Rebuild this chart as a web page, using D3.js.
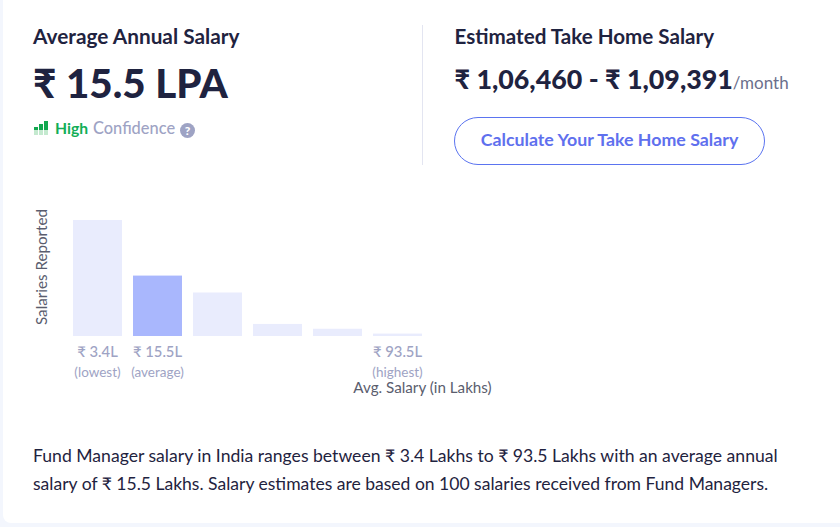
<!DOCTYPE html>
<html>
<head>
<meta charset="utf-8">
<script src="https://d3js.org/d3.v7.min.js"></script>
<style>
html, body { margin: 0; padding: 0; background: #f3f6fd; overflow: hidden; }
svg { display: block; font-family: Lato, "Open Sans", sans-serif; }
.domain { display: none; }
</style>
</head>
<body>
<div id="chart"></div>
<script>
var width = 840;
var height = 527;

// bars
var bins = ['b1', 'b2', 'b3', 'b4', 'b5', 'b6'];
var counts = [48, 25, 18, 5, 3, 1];
var tickLabels = ['₹ 3.4L', '₹ 15.5L', '', '', '', '₹ 93.5L'];
var tickNotes = ['(lowest)', '(average)', '', '', '', '(highest)'];
var averageBin = 'b2';

var svg = d3.select('#chart')
    .append('svg')
    .attr('width', width)
    .attr('height', height);

// white card
svg.append('rect')
    .attr('x', 3).attr('y', -10)
    .attr('width', 850).attr('height', 533)
    .attr('rx', 8)
    .attr('fill', '#fff');

function label(x, y, txt, size, weight, color) {
    return svg.append('text')
        .attr('x', x).attr('y', y)
        .attr('font-size', size)
        .attr('font-weight', weight)
        .attr('fill', color)
        .text(txt);
}

var dark = '#1f2340';
var grey = '#9ea3c4';

// header, left
label(33, 44, 'Average Annual Salary', 20.8, 700, dark);
label(33, 98, '₹ 15.5 LPA', 40.3, 900, dark);

// little signal icon
var signal = svg.append('g').attr('transform', 'translate(34,121)');
[[0, 6], [5, 3], [10, 0]].forEach(function(d) {
    signal.append('rect').attr('x', d[0]).attr('y', d[1])
        .attr('width', 4).attr('height', 14 - d[1]).attr('fill', '#c4e9cf');
    signal.append('rect').attr('x', d[0]).attr('y', d[1])
        .attr('width', 4).attr('height', 9 - d[1]).attr('fill', '#12a84f');
});

label(55, 134, 'High', 15.7, 700, '#12ae57');
label(93, 134, 'Confidence', 16.4, 500, grey);

svg.append('circle').attr('cx', 187.5).attr('cy', 130.5).attr('r', 7.5).attr('fill', grey);
label(187.5, 135, '?', 12, 900, '#fff').attr('text-anchor', 'middle');

// divider
svg.append('line')
    .attr('x1', 422.5).attr('x2', 422.5)
    .attr('y1', 25).attr('y2', 165)
    .attr('stroke', '#e3e5f1');

// header, right
label(454.5, 44, 'Estimated Take Home Salary', 20.6, 700, dark);
var range = label(454.5, 89, '₹ 1,06,460 - ₹ 1,09,391', 26.8, 900, dark);
range.append('tspan')
    .attr('font-size', 17)
    .attr('font-weight', 400)
    .attr('fill', '#6b6f8c')
    .text('/month');

svg.append('rect')
    .attr('x', 454.5).attr('y', 117.5)
    .attr('width', 310).attr('height', 47)
    .attr('rx', 23.5)
    .attr('fill', '#fff')
    .attr('stroke', '#5b74f0');
label(609.5, 146, 'Calculate Your Take Home Salary', 17.8, 700, '#5f70ee')
    .attr('text-anchor', 'middle');

// bar chart
var x = d3.scaleBand()
    .domain(bins)
    .range([73, 422])
    .paddingInner(11 / 60);

var y = d3.scaleLinear()
    .domain([0, 48])
    .range([336, 220]);

svg.selectAll('rect.bar')
    .data(counts)
    .enter()
    .append('rect')
    .attr('class', 'bar')
    .attr('x', function(d, i) { return x(bins[i]); })
    .attr('y', function(d) { return y(d); })
    .attr('width', x.bandwidth())
    .attr('height', function(d) { return y(0) - y(d); })
    .attr('fill', function(d, i) { return bins[i] === averageBin ? '#a9b7fd' : '#e9ecfd'; });

var axis = d3.axisBottom(x)
    .tickSize(0)
    .tickPadding(0)
    .tickFormat(function(d, i) { return tickLabels[i]; });

var axisG = svg.append('g')
    .attr('transform', 'translate(0,346)')
    .call(axis);

axisG.selectAll('text')
    .attr('font-family', 'Lato, sans-serif')
    .attr('font-size', 14.8)
    .attr('font-weight', 500)
    .attr('fill', grey);

var noteAxis = d3.axisBottom(x)
    .tickSize(0)
    .tickPadding(0)
    .tickFormat(function(d, i) { return tickNotes[i]; });

var noteG = svg.append('g')
    .attr('transform', 'translate(0,367)')
    .call(noteAxis);

noteG.selectAll('text')
    .attr('font-family', 'Lato, sans-serif')
    .attr('font-size', 13.5)
    .attr('fill', grey);

label(422.5, 393, 'Avg. Salary (in Lakhs)', 15.2, 400, '#5a5d6e')
    .attr('text-anchor', 'middle');

label(0, 0, 'Salaries Reported', 15.2, 400, '#5a5d6e')
    .attr('text-anchor', 'middle')
    .attr('transform', 'translate(47,267) rotate(-90)');

// footer
label(33, 462, 'Fund Manager salary in India ranges between ₹ 3.4 Lakhs to ₹ 93.5 Lakhs with an average annual', 17.6, 400, dark);
label(33, 490, 'salary of ₹ 15.5 Lakhs. Salary estimates are based on 100 salaries received from Fund Managers.', 17.55, 400, dark);
</script>
</body>
</html>
